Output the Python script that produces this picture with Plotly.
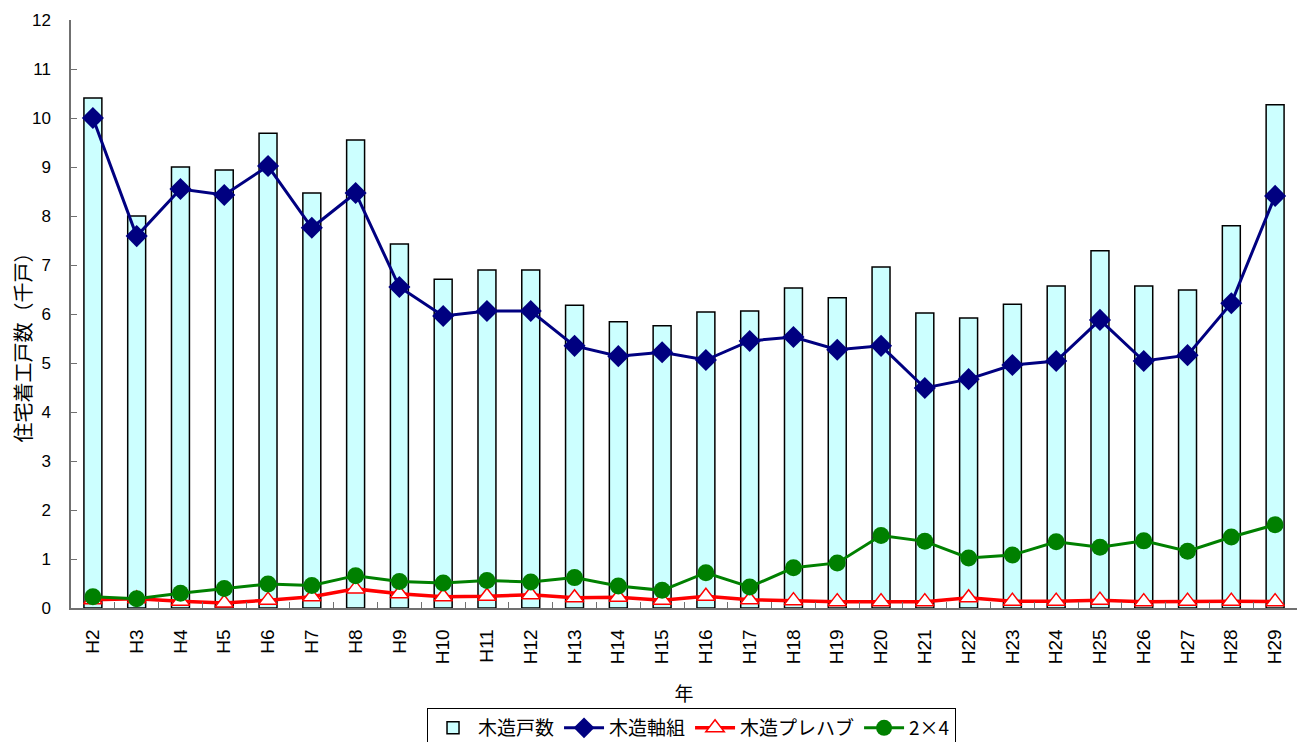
import plotly.graph_objects as go

years = ["H2", "H3", "H4", "H5", "H6", "H7", "H8", "H9", "H10", "H11", "H12", "H13", "H14", "H15",
         "H16", "H17", "H18", "H19", "H20", "H21", "H22", "H23", "H24", "H25", "H26", "H27", "H28", "H29"]

wood_total = [10.41, 8.00, 9.00, 8.94, 9.69, 8.47, 9.55, 7.43, 6.71, 6.90, 6.90, 6.18, 5.84, 5.76,
              6.04, 6.06, 6.53, 6.33, 6.96, 6.02, 5.92, 6.20, 6.57, 7.29, 6.57, 6.49, 7.80, 10.27]

wood_frame = [10.00, 7.59, 8.55, 8.43, 9.02, 7.76, 8.47, 6.55, 5.96, 6.06, 6.06, 5.35, 5.14, 5.22,
              5.06, 5.45, 5.53, 5.27, 5.35, 4.49, 4.67, 4.96, 5.04, 5.88, 5.04, 5.16, 6.22, 8.41]

wood_prefab = [0.17, 0.19, 0.14, 0.10, 0.16, 0.23, 0.39, 0.29, 0.23, 0.24, 0.27, 0.21, 0.22, 0.16,
               0.24, 0.17, 0.15, 0.13, 0.13, 0.13, 0.21, 0.14, 0.14, 0.16, 0.13, 0.14, 0.14, 0.13]

two_by_four = [0.23, 0.19, 0.30, 0.40, 0.49, 0.46, 0.66, 0.54, 0.51, 0.56, 0.53, 0.62, 0.45, 0.36,
               0.72, 0.43, 0.82, 0.92, 1.48, 1.36, 1.02, 1.08, 1.35, 1.24, 1.37, 1.16, 1.45, 1.70]

y_title = "住宅着工戸数（千戸）"
x_title = "年"

FONT = "Liberation Sans, Arial, Noto Sans CJK JP, sans-serif"
CJK = "Noto Sans CJK JP, sans-serif"

fig = go.Figure()

fig.add_trace(go.Bar(
    x=years, y=wood_total, name="木造戸数", width=0.41,
    marker=dict(color="#CCFFFF", line=dict(color="#000000", width=1.5)),
))
fig.add_trace(go.Scatter(
    x=years, y=wood_frame, name="木造軸組", mode="lines+markers",
    line=dict(color="#000080", width=3),
    marker=dict(symbol="diamond", size=17, color="#000080"),
))
fig.add_trace(go.Scatter(
    x=years, y=wood_prefab, name="木造プレハブ", mode="lines+markers",
    line=dict(color="#FF0000", width=3.5),
    marker=dict(symbol="triangle-up", size=16, color="#FFFFFF", line=dict(color="#FF0000", width=1.5)),
))
fig.add_trace(go.Scatter(
    x=years, y=two_by_four, name="2×4", mode="lines+markers",
    line=dict(color="#008000", width=3),
    marker=dict(symbol="circle", size=17, color="#008000"),
))

# page body has an 8px margin, so figure coordinates are offset by (8, 8) on screen
W, H = 1297, 734
fig.update_layout(
    width=W, height=H,
    margin=dict(l=63, r=8, t=12, b=134, autoexpand=False),
    paper_bgcolor="white", plot_bgcolor="white",
    font=dict(family=FONT, size=16, color="#000000"),
    showlegend=True,
    legend=dict(
        orientation="h", x=0.527, xanchor="center", xref="container",
        y=(H - 700) / H, yanchor="top", yref="container",
        bordercolor="#000000", borderwidth=1, font=dict(size=19, family=CJK),
        traceorder="normal", itemwidth=40,
    ),
    bargap=0.5,
    annotations=[dict(
        text=y_title, textangle=-90, showarrow=False,
        xref="paper", yref="paper", x=-0.0395, y=0.4507,
        xanchor="center", yanchor="middle",
        font=dict(size=20, family=CJK, color="#000000"),
    )],
)

fig.update_xaxes(
    type="category", range=[-0.5, 27.5], automargin=False,
    tickangle=-90, tickfont=dict(size=19, family="Liberation Sans, Arial, sans-serif"),
    ticks="inside", ticklen=6, tickcolor="#707070", tickson="boundaries",
    ticklabelstandoff=12,
    showline=True, linecolor="#707070", linewidth=1.5,
    showgrid=False, zeroline=False,
    title=dict(text=x_title, font=dict(size=19, family=CJK), standoff=24),
)
fig.update_yaxes(
    range=[0, 12], dtick=1, automargin=False,
    tickfont=dict(size=17),
    ticks="inside", ticklen=6, tickcolor="#707070",
    ticklabelstandoff=15,
    showline=True, linecolor="#707070", linewidth=1.5,
    showgrid=False, zeroline=False,
)

fig.write_html("out.html")
